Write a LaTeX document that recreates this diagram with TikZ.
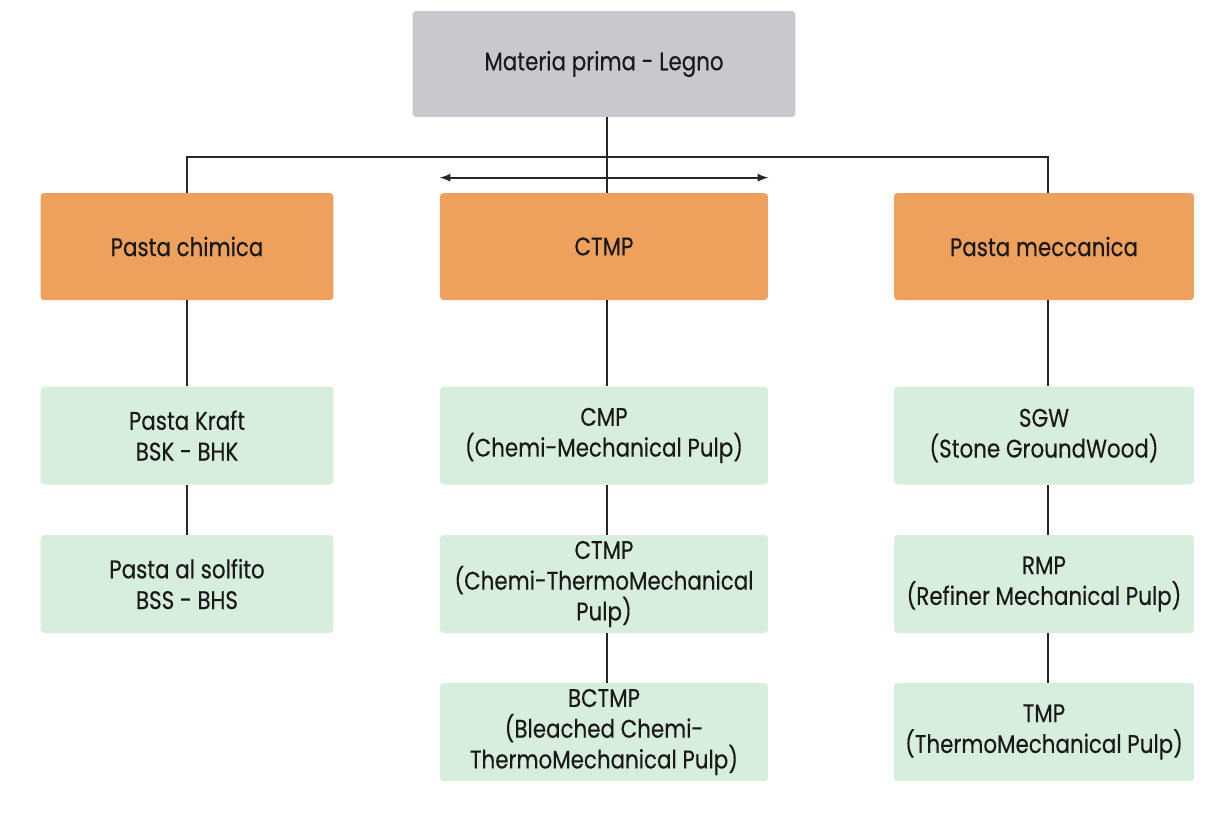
\documentclass[tikz,border=0pt]{standalone}
\usepackage{fontspec}
\setmainfont{Poppins}[FakeStretch=0.84, FakeBold=0.3]
\usepackage{xcolor}
\usetikzlibrary{positioning}

\definecolor{grigio}{HTML}{C9C9CD}
\definecolor{arancio}{HTML}{EDA15C}
\definecolor{verde}{HTML}{D7EEDC}

\begin{document}
\begin{tikzpicture}[>=latex, x=0.02cm, y=-0.02cm,
    box/.style={rounded corners=2pt, inner sep=0pt, align=center,
        font=\fontsize{14.5}{17.5}\selectfont, text=black!90},
    radice/.style={box, fill=grigio, minimum width=7.66cm, minimum height=2.12cm},
    ramo/.style={box, fill=arancio, minimum height=2.14cm},
    foglia/.style={box, fill=verde, minimum height=1.96cm},
    linea/.style={line width=1.1pt, black!85}]
    \useasboundingbox (0,0) rectangle (1217,816);

    % Nodo radice
    \node[radice] (legno) at (604,64) {Materia prima - Legno};

    % Tre tipi di pasta
    \node[ramo, minimum width=5.86cm] (chim) at (187,246.5) {Pasta chimica};
    \node[ramo, minimum width=6.56cm] (ctmp) at (604,246.5) {CTMP};
    \node[ramo, minimum width=6cm] (mecc) at (1044,246.5) {Pasta meccanica};

    % Colonna sinistra
    \node[foglia, minimum width=5.86cm] (kraft) at (187,435.5) {Pasta Kraft\\BSK - BHK};
    \node[foglia, minimum width=5.86cm] (solf) at (187,584) {Pasta al solfito\\BSS - BHS};

    % Colonna centrale
    \node[foglia, minimum width=6.56cm] (cmp) at (604,435.5) {CMP\\(Chemi-Mechanical Pulp)};
    \node[foglia, minimum width=6.56cm] (ctmpb) at (604,584) {CTMP\\(Chemi-ThermoMechanical\\Pulp)};
    \node[foglia, minimum width=6.56cm] (bctmp) at (604,732) {BCTMP\\(Bleached Chemi-\\ThermoMechanical Pulp)};

    % Colonna destra
    \node[foglia, minimum width=6cm] (sgw) at (1044,435.5) {SGW\\(Stone GroundWood)};
    \node[foglia, minimum width=6cm] (rmp) at (1044,584) {RMP\\(Refiner Mechanical Pulp)};
    \node[foglia, minimum width=6cm] (tmp) at (1044,732) {TMP\\(ThermoMechanical Pulp)};

    % Collegamenti
    \draw[linea] ([xshift=0.06cm]legno.south) -- ([xshift=0.06cm]ctmp.north);
    \draw[linea] (chim.north) -- ++(0,-36) -| ([xshift=0.08cm]mecc.north);
    \draw[linea, <->] ([yshift=0.3cm]ctmp.north west) -- ([yshift=0.3cm]ctmp.north east);

    \foreach \a/\b in {chim/kraft, kraft/solf} {
        \draw[linea] (\a.south) -- (\b.north);
    }
    \foreach \a/\b in {ctmp/cmp, cmp/ctmpb, ctmpb/bctmp} {
        \draw[linea] ([xshift=0.06cm]\a.south) -- ([xshift=0.06cm]\b.north);
    }
    \foreach \a/\b in {mecc/sgw, sgw/rmp, rmp/tmp} {
        \draw[linea] ([xshift=0.08cm]\a.south) -- ([xshift=0.08cm]\b.north);
    }
\end{tikzpicture}
\end{document}
